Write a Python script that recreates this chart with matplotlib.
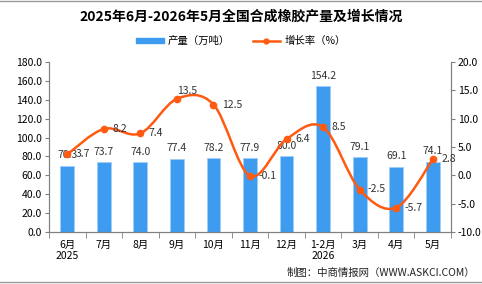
import numpy as np
import matplotlib
matplotlib.use('Agg')
import matplotlib.pyplot as plt
from matplotlib.path import Path
from matplotlib.patches import PathPatch
from matplotlib.lines import Line2D

plt.rcParams['font.family'] = ['Noto Sans CJK SC', 'DejaVu Sans']

# === Data ===
months = ['6月\n2025', '7月', '8月', '9月', '10月', '11月', '12月',
          '1-2月\n2026', '3月', '4月', '5月']
output = [70.3, 73.7, 74.0, 77.4, 78.2, 77.9, 80.0, 154.2, 79.1, 69.1, 74.1]
growth = [3.7, 8.2, 7.4, 13.5, 12.5, -0.1, 6.4, 8.5, -2.5, -5.7, 2.8]

bar_color = '#3d9cf0'
line_color = '#ff5a12'
grey = '#808080'

fig = plt.figure(figsize=(4.82, 2.84), dpi=100)
ax = fig.add_axes([49 / 482, 1 - 232 / 284, 402 / 482, 170 / 284])
ax2 = ax.twinx()

x = np.arange(len(months))

# === Bars ===
ax.bar(x, output, width=0.38, color=bar_color, edgecolor='#9fcdf6',
       linewidth=0.6, zorder=2)
for xi, v in zip(x, output):
    ax.annotate(f'{v:.1f}', (xi, v), xytext=(0, 4), textcoords='offset points',
                ha='center', va='bottom', fontsize=7.5, color='#333333')

# === Smooth growth line (Bezier through the points) ===
pts = np.column_stack([x, growth]).astype(float)
n = len(pts)
verts = [pts[0]]
codes = [Path.MOVETO]
for i in range(n - 1):
    p_prev = pts[max(i - 1, 0)]
    p0 = pts[i]
    p1 = pts[i + 1]
    p_next = pts[min(i + 2, n - 1)]
    c1 = p0 + (p1 - p_prev) / 6
    c2 = p1 - (p_next - p0) / 6
    verts += [c1, c2, p1]
    codes += [Path.CURVE4] * 3
ax2.add_patch(PathPatch(Path(verts, codes), facecolor='none',
                        edgecolor=line_color, linewidth=1.8, zorder=3))
ax2.plot(x, growth, 'o', color=line_color, markersize=4.5, zorder=4)
for xi, g in zip(x, growth):
    if g == 13.5:
        ax2.annotate(f'{g:.1f}', (xi, g), xytext=(0, 2), textcoords='offset points',
                     ha='left', va='bottom', fontsize=7.5, color='#333333')
    else:
        ax2.annotate(f'{g:.1f}', (xi, g), xytext=(6, 0), textcoords='offset points',
                     ha='left', va='center', fontsize=7.5, color='#333333')

# === Axes ===
ax.set_xlim(-0.5, len(months) - 0.5)
ax.set_ylim(0, 180)
ax.set_yticks(np.arange(0, 181, 20))
ax.set_yticklabels([f'{v:.1f}' for v in np.arange(0, 181, 20)])
ax2.set_ylim(-10, 20)
ax2.set_yticks(np.arange(-10, 21, 5))
ax2.set_yticklabels([f'{v:.1f}' for v in np.arange(-10, 21, 5)])

ax.set_xticks(x)
ax.set_xticklabels(months, fontsize=7.5, linespacing=1.1)
ax.set_xticks(np.arange(-0.5, len(months), 1), minor=True)
ax.tick_params(axis='x', which='major', length=0, pad=6)
ax.tick_params(axis='x', which='minor', length=4, color=grey)
ax.tick_params(axis='y', labelsize=7.5, length=3, color=grey, pad=2)
ax2.tick_params(axis='y', labelsize=7.5, length=3, color=grey, pad=2)

for a in (ax, ax2):
    a.spines['top'].set_visible(False)
    for s in ('left', 'right', 'bottom'):
        a.spines[s].set_color(grey)
        a.spines[s].set_linewidth(0.8)

# === Title, legend, credit ===
fig.text(0.5, 1 - 17 / 284, '2025年6月-2026年5月全国合成橡胶产量及增长情况',
         ha='center', va='center', fontsize=10, fontweight='bold')

handles = [plt.Rectangle((0, 0), 1, 1, color=bar_color),
           Line2D([0], [0], color=line_color, marker='o', markersize=3.5,
                  linewidth=1.8)]
fig.legend(handles, ['产量（万吨）', '增长率（%）'], loc='center',
           bbox_to_anchor=(0.5, 1 - 41 / 284), ncol=2, frameon=False,
           fontsize=7.5, handlelength=2.6, handleheight=0.4,
           columnspacing=2.2, handletextpad=0.4)

fig.text(475 / 482, 1 - 273 / 284, '制图：中商情报网（WWW.ASKCI.COM）',
         ha='right', va='center', fontsize=7.5, color='#222222')

fig.add_artist(Line2D([0, 1], [0.998, 0.998], color='#9a9a9a', linewidth=1))
fig.add_artist(Line2D([0, 1], [1 - 282 / 284] * 2, color='#9a9a9a', linewidth=1))

fig.savefig('out.png', dpi=100)
